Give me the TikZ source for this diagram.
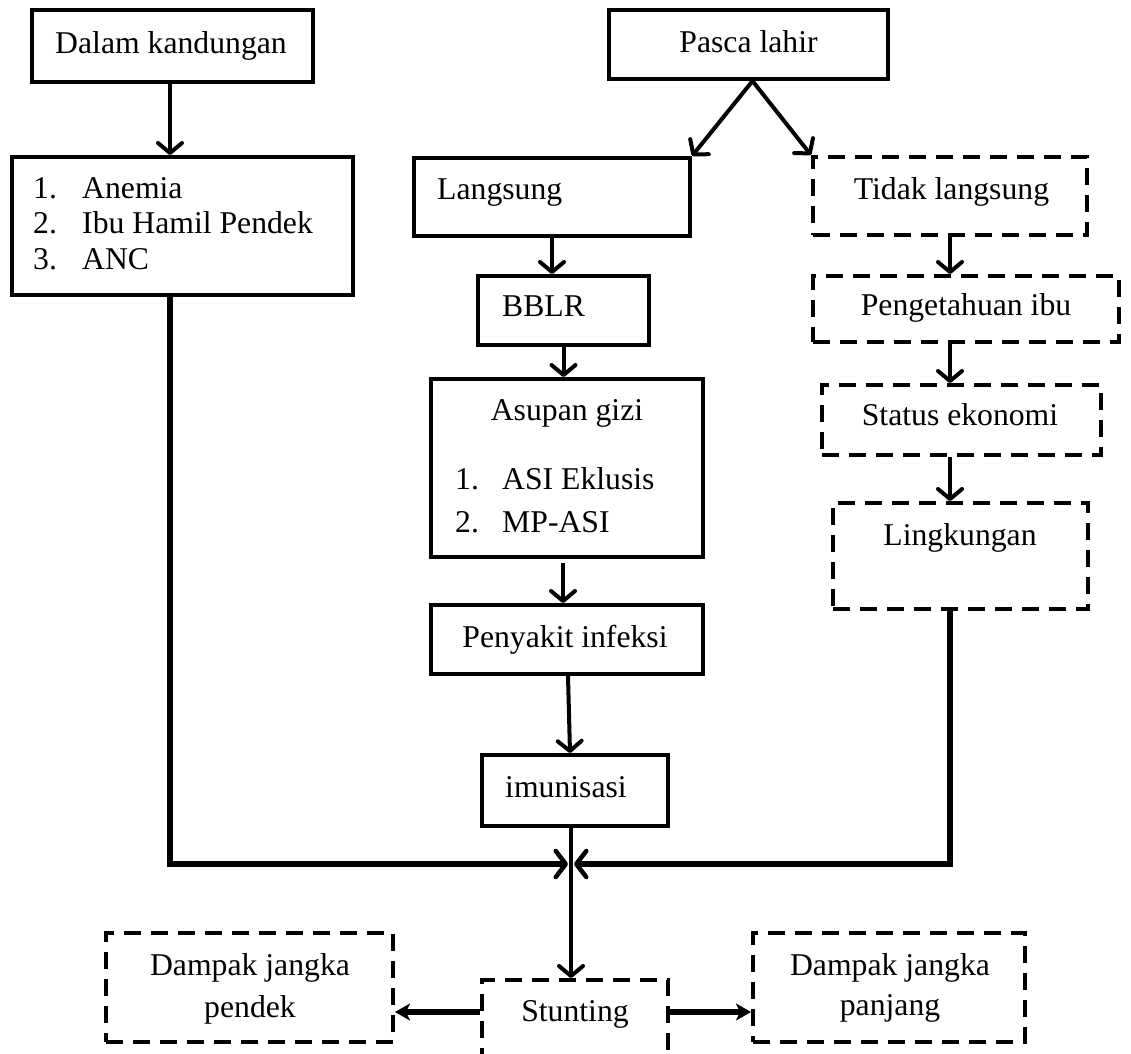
\documentclass[tikz,border=0pt]{standalone}
\usepackage{fontspec}
\setmainfont{Liberation Serif}
\usetikzlibrary{arrows.meta,calc}
\begin{document}
\begin{tikzpicture}[x=1pt,y=-1pt,
  box/.style={draw,line width=4pt,inner sep=0pt,rectangle},
  dbox/.style={box,dash pattern=on 17pt off 10pt},
  lbl/.style={inner sep=0pt,font=\fontsize{31.7}{38}\selectfont},
  arr/.style={line width=4pt,-{Straight Barb[length=10pt,width=24pt,line width=4pt,round]}},
  joinarr/.style={line width=5.5pt,-{Straight Barb[length=10pt,width=26pt,line width=4.5pt,round]}},
  sidearr/.style={line width=6pt,-{Stealth[length=15pt,width=17pt,inset=4pt]}}]
\clip (0,0) rectangle (1131,1053);
\fill[white] (0,0) rectangle (1131,1053);

% boxes
\node[box,minimum width=281pt,minimum height=72pt] (dk) at (172.5,46) {};
\node[box,minimum width=341pt,minimum height=138pt] (anemia) at (182.5,226) {};
\node[box,minimum width=279pt,minimum height=69pt] (pasca) at (748.5,44.5) {};
\node[box,minimum width=276pt,minimum height=78pt] (lang) at (552,197) {};
\node[dbox,minimum width=274pt,minimum height=78pt] (tidak) at (950,196) {};
\node[box,minimum width=171pt,minimum height=69pt] (bblr) at (563.5,310.5) {};
\node[dbox,minimum width=306pt,minimum height=66pt] (peng) at (966,309) {};
\node[box,minimum width=272pt,minimum height=178pt] (asupan) at (567,468) {};
\node[dbox,minimum width=279pt,minimum height=70pt] (status) at (961.5,420) {};
\node[box,minimum width=272pt,minimum height=69pt] (penyakit) at (567,639.5) {};
\node[dbox,minimum width=255pt,minimum height=106pt] (ling) at (960.5,556) {};
\node[box,minimum width=186pt,minimum height=71pt] (imun) at (575,790.5) {};
\node[dbox,minimum width=186pt,minimum height=100pt] (stunting) at (575,1030) {};
\node[dbox,minimum width=287pt,minimum height=109pt] (dpendek) at (249.5,987.5) {};
\node[dbox,minimum width=272pt,minimum height=109pt] (dpanjang) at (889,987.5) {};

% texts
\node[lbl,anchor=base] (tdk) at (171,53) {Dalam kandungan};
\node[lbl,anchor=base west] (n1) at (33,198) {1.};
\node[lbl,anchor=base west] (a1) at (82,198) {Anemia};
\node[lbl,anchor=base west] (n2) at (33,233) {2.};
\node[lbl,anchor=base west] (a2) at (82,233) {Ibu Hamil Pendek};
\node[lbl,anchor=base west] (n3) at (33,269) {3.};
\node[lbl,anchor=base west] (a3) at (82,269) {ANC};
\node[lbl,anchor=base] (tpasca) at (748.5,52) {Pasca lahir};
\node[lbl,anchor=base west] (tlang) at (437,199) {Langsung};
\node[lbl,anchor=base] (ttidak) at (951.5,199) {Tidak langsung};
\node[lbl,anchor=base west] (tbblr) at (502,316) {BBLR};
\node[lbl,anchor=base] (tpeng) at (966,315) {Pengetahuan ibu};
\node[lbl,anchor=base] (tasupan) at (567,420) {Asupan gizi};
\node[lbl,anchor=base west] (m1) at (455,489) {1.};
\node[lbl,anchor=base west] (b1) at (502,489) {ASI Eklusis};
\node[lbl,anchor=base west] (m2) at (455,532) {2.};
\node[lbl,anchor=base west] (b2) at (502,532) {MP-ASI};
\node[lbl,anchor=base] (tpenyakit) at (565,647) {Penyakit infeksi};
\node[lbl,anchor=base] (tstatus) at (960,425) {Status ekonomi};
\node[lbl,anchor=base] (tling) at (960,545) {Lingkungan};
\node[lbl,anchor=base west] (timun) at (505,797) {imunisasi};
\node[lbl,anchor=base] (tstunting) at (575,1021) {Stunting};
\node[lbl,anchor=base] (tdp1) at (250,975) {Dampak jangka};
\node[lbl,anchor=base] (tdp2) at (250,1017) {pendek};
\node[lbl,anchor=base] (tdq1) at (890,975) {Dampak jangka};
\node[lbl,anchor=base] (tdq2) at (890,1015) {panjang};

% coordinates
\coordinate (m) at (571,864);
\coordinate (lx) at (170,0);
\coordinate (rx) at (950,0);
\coordinate (ax) at (0,1012);

% connectors
\draw[arr] (dk.south -| lx) -- (anemia.north -| lx);
\draw[arr] ($(pasca.south)+(4,0)$) -- (lang.north east);
\draw[arr] ($(pasca.south)+(4,0)$) -- (tidak.north west);
\draw[arr] (lang.south) -- (lang.south |- bblr.north);
\draw[arr] (bblr.south) -- (bblr.south |- asupan.north);
\draw[arr] ($(asupan.south)+(-4,4)$) -- ($(penyakit.north)+(-4,0)$);
\draw[arr] ($(penyakit.south)+(1,0)$) -- ($(imun.north)+(-5,0)$);
\draw[arr] (tidak.south -| rx) -- (peng.north -| rx);
\draw[arr] (peng.south -| rx) -- (status.north -| rx);
\draw[arr] (status.south -| rx) -- (ling.north -| rx);
\draw[joinarr] (anemia.south -| lx) -- (m -| lx) -- ($(m)+(-3,0)$);
\draw[joinarr] (ling.south -| rx) -- (m -| rx) -- ($(m)+(3,0)$);
\draw[arr] (imun.south -| m) -- (stunting.north -| m);
\draw[sidearr] (stunting.west |- ax) -- (dpendek.east |- ax);
\draw[sidearr] (stunting.east |- ax) -- (dpanjang.west |- ax);
\end{tikzpicture}
\end{document}
